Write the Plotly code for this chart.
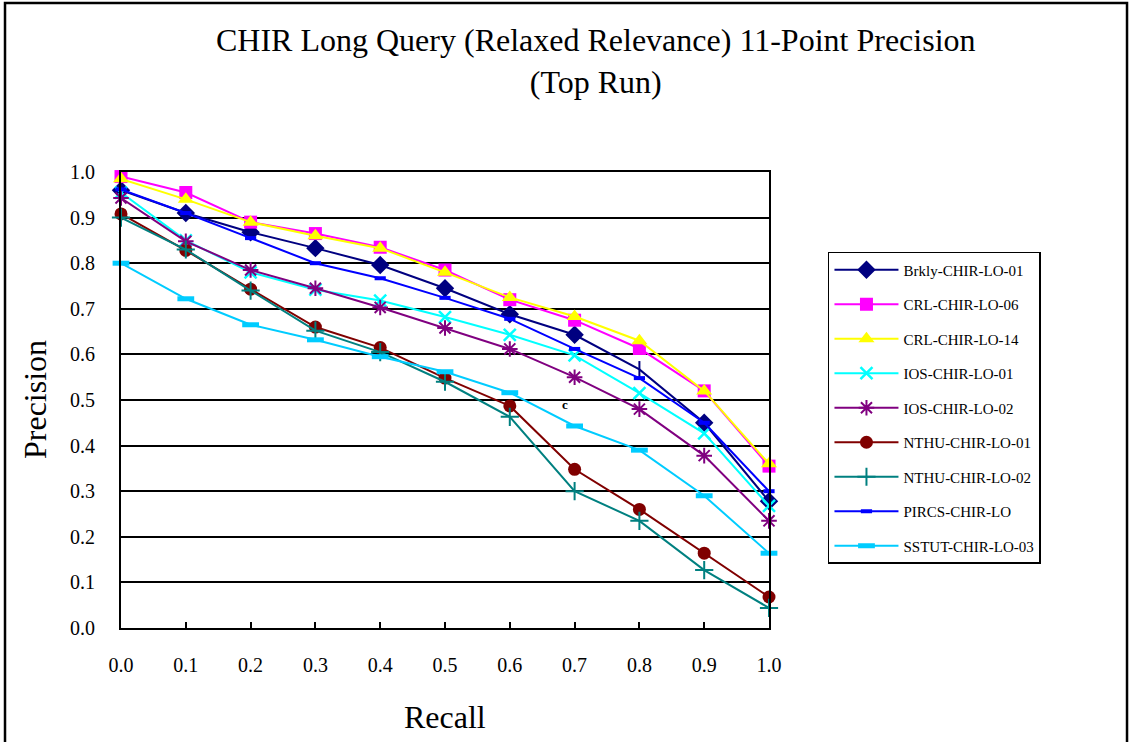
import plotly.graph_objects as go

# Recall levels (11-point interpolation)
recall = [0.0, 0.1, 0.2, 0.3, 0.4, 0.5, 0.6, 0.7, 0.8, 0.9, 1.0]
tick_labels = ["0.0", "0.1", "0.2", "0.3", "0.4", "0.5", "0.6", "0.7", "0.8", "0.9", "1.0"]

# Precision at each recall level, one list per run
brkly_chir_lo_01 = [0.96, 0.91, 0.868, 0.833, 0.796, 0.745, 0.688, 0.643, 0.567, 0.45, 0.278]
crl_chir_lo_06 = [0.99, 0.955, 0.89, 0.865, 0.835, 0.785, 0.72, 0.675, 0.613, 0.52, 0.355]
crl_chir_lo_14 = [0.985, 0.94, 0.89, 0.86, 0.833, 0.78, 0.725, 0.683, 0.63, 0.52, 0.36]
ios_chir_lo_01 = [0.955, 0.85, 0.78, 0.742, 0.718, 0.682, 0.643, 0.598, 0.515, 0.427, 0.268]
ios_chir_lo_02 = [0.943, 0.848, 0.785, 0.745, 0.703, 0.658, 0.612, 0.55, 0.48, 0.378, 0.235]
nthu_chir_lo_01 = [0.908, 0.828, 0.743, 0.66, 0.615, 0.548, 0.487, 0.348, 0.26, 0.164, 0.068]
nthu_chir_lo_02 = [0.9, 0.83, 0.74, 0.652, 0.605, 0.54, 0.463, 0.3, 0.235, 0.127, 0.044]
pircs_chir_lo = [0.962, 0.91, 0.855, 0.8, 0.767, 0.724, 0.678, 0.612, 0.548, 0.45, 0.30]
sstut_chir_lo_03 = [0.8, 0.722, 0.665, 0.632, 0.595, 0.562, 0.516, 0.443, 0.39, 0.29, 0.164]

SERIF = "Liberation Serif"

runs = [
    ("Brkly-CHIR-LO-01", brkly_chir_lo_01, "#000080",
     ["diamond"] * 8 + ["line-ns-open"] + ["diamond"] * 2, 12, 2),
    ("CRL-CHIR-LO-06", crl_chir_lo_06, "#FF00FF", "square", 13, 0),
    ("CRL-CHIR-LO-14", crl_chir_lo_14, "#FFFF00", "triangle-up", 14, 0),
    ("IOS-CHIR-LO-01", ios_chir_lo_01, "#00FFFF", "x-thin-open", 12, 2.5),
    ("IOS-CHIR-LO-02", ios_chir_lo_02, "#800080", "asterisk-open", 13, 2),
    ("NTHU-CHIR-LO-01", nthu_chir_lo_01, "#800000", "circle", 13, 0),
    ("NTHU-CHIR-LO-02", nthu_chir_lo_02, "#008080", "cross-thin-open", 13, 2),
    ("PIRCS-CHIR-LO", pircs_chir_lo, "#0000FF", "line-ew-open", 8, 4),
    ("SSTUT-CHIR-LO-03", sstut_chir_lo_03, "#00CCFF", "line-ew-open", 12, 5),
]

fig = go.Figure()
for i, (name, vals, color, symbol, size, lw) in enumerate(runs):
    fig.add_trace(go.Scatter(
        x=recall, y=vals, name=name, mode="lines+markers",
        legendgroup=f"g{i}",
        line=dict(color=color, width=2),
        marker=dict(symbol=symbol, size=size, color=color,
                    line=dict(color=color, width=lw)),
        cliponaxis=False,
    ))

fig.update_layout(
    width=1129, height=742,
    margin=dict(l=121, r=360, t=172, b=114),
    paper_bgcolor="white", plot_bgcolor="white",
    font=dict(family=SERIF, color="black"),
    showlegend=True,
    legend=dict(
        x=1.091, y=0.8246, xanchor="left", yanchor="top",
        bordercolor="black", borderwidth=1.5, bgcolor="white",
        font=dict(family=SERIF, size=15, color="black"),
        tracegroupgap=12, itemwidth=64,
    ),
    xaxis=dict(
        range=[0, 1], tickmode="array", tickvals=recall, ticktext=tick_labels,
        showgrid=False, zeroline=False,
        showline=True, linecolor="black", linewidth=2, mirror=True,
        ticks="inside", ticklen=6, tickwidth=2, tickcolor="black",
        tickfont=dict(family=SERIF, size=20),
        ticklabelstandoff=18,
    ),
    yaxis=dict(
        range=[0, 1], tickmode="array", tickvals=recall, ticktext=tick_labels,
        showgrid=True, gridcolor="black", gridwidth=2, zeroline=False,
        showline=True, linecolor="black", linewidth=2, mirror=True,
        ticks="", tickfont=dict(family=SERIF, size=20),
        ticklabelstandoff=20,
    ),
    annotations=[
        dict(text="CHIR Long Query (Relaxed Relevance) 11-Point Precision<br>(Top Run)",
             xref="paper", yref="paper", x=0.733, y=1.243,
             xanchor="center", yanchor="middle", showarrow=False,
             font=dict(family=SERIF, size=32)),
        dict(text="Precision", xref="paper", yref="paper", x=-0.1327, y=0.5,
             textangle=-90, xanchor="center", yanchor="middle", showarrow=False,
             font=dict(family=SERIF, size=32)),
        dict(text="Recall", xref="paper", yref="paper", x=0.5, y=-0.195,
             xanchor="center", yanchor="middle", showarrow=False,
             font=dict(family=SERIF, size=32)),
        dict(text="<b>c</b>", xref="x", yref="y", x=0.685, y=0.491,
             showarrow=False, font=dict(family=SERIF, size=13)),
    ],
    shapes=[
        dict(type="rect", xref="paper", yref="paper",
             x0=-0.179, x1=1.5525, y0=-0.26, y1=1.3706,
             line=dict(color="black", width=2.5), fillcolor="rgba(0,0,0,0)",
             layer="below"),
    ],
)

fig.write_html("out.html")
